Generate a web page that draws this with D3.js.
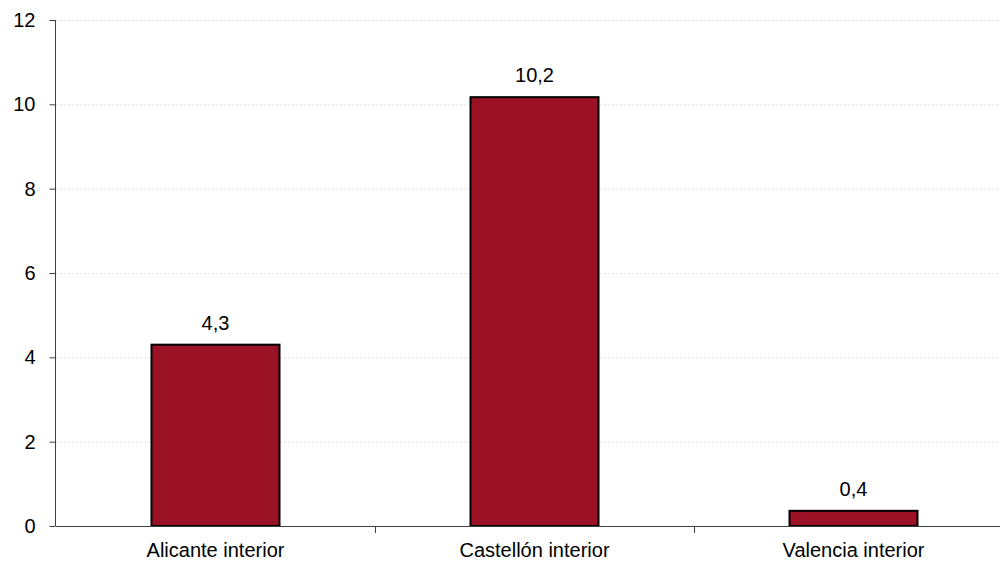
<!DOCTYPE html>
<html><head><meta charset="utf-8">
<script src="https://cdn.jsdelivr.net/npm/d3@7"></script>
<style>body{margin:0;background:#fff;}svg{display:block;font-family:"Liberation Sans",Arial,sans-serif;}</style>
</head><body>
<svg id="c" width="1000" height="564"></svg>
<script>
const categories = ["Alicante interior", "Castellón interior", "Valencia interior"];
const values = [4.3, 10.17, 0.36];
const valueLabels = ["4,3", "10,2", "0,4"];
const yTicks = [0, 2, 4, 6, 8, 10, 12];

const svg = d3.select("#c");
const x = d3.scaleBand().domain(categories).range([56, 1013]).paddingInner(0).paddingOuter(0);
const y = d3.scaleLinear().domain([0, 12]).range([526, 20]);
const bw = 128;
const fs = 20;

// gridlines
svg.append("g").selectAll("line").data(yTicks.filter(d => d > 0)).join("line")
  .attr("x1", 56).attr("x2", 1000).attr("y1", d => y(d) + 0.5).attr("y2", d => y(d) + 0.5)
  .attr("stroke", "#e3e3e3").attr("stroke-width", 1).attr("stroke-dasharray", "2,2");

// bars
svg.append("g").selectAll("rect").data(categories).join("rect")
  .attr("x", d => x(d) + x.bandwidth() / 2 - bw / 2)
  .attr("y", (d, i) => y(values[i]))
  .attr("width", bw)
  .attr("height", (d, i) => y(0) - y(values[i]))
  .attr("fill", "#9b1126").attr("stroke", "#000").attr("stroke-width", 2);

// value labels
svg.append("g").selectAll("text").data(categories).join("text")
  .attr("x", d => x(d) + x.bandwidth() / 2)
  .attr("y", (d, i) => y(values[i]) - 15)
  .attr("text-anchor", "middle").attr("font-size", fs).attr("fill", "#000")
  .text((d, i) => valueLabels[i]);

// y axis
const ya = svg.append("g").attr("transform", "translate(55.5,0)")
  .call(d3.axisLeft(y).tickValues(yTicks).tickSize(6).tickPadding(14).tickFormat(d3.format("d")));
ya.select(".domain").attr("stroke", "#404040").attr("d", "M0," + y(12) + "V" + y(0));
ya.selectAll(".tick line").attr("stroke", "#404040");
ya.selectAll("text").attr("font-size", fs).attr("fill", "#000").attr("font-family", "Liberation Sans, Arial, sans-serif");

// x axis
const xa = svg.append("g").attr("transform", "translate(0,526.5)")
  .call(d3.axisBottom(x).tickSize(0).tickPadding(16));
xa.select(".domain").attr("stroke", "#404040").attr("d", "M56,0H1000");
xa.selectAll("text").attr("font-size", fs).attr("fill", "#000").attr("font-family", "Liberation Sans, Arial, sans-serif");
// category boundary ticks
svg.append("g").selectAll("line").data(categories.slice(1)).join("line")
  .attr("x1", d => Math.round(x(d)) + 0.5).attr("x2", d => Math.round(x(d)) + 0.5)
  .attr("y1", 526).attr("y2", 533).attr("stroke", "#404040");
</script>
</body></html>
